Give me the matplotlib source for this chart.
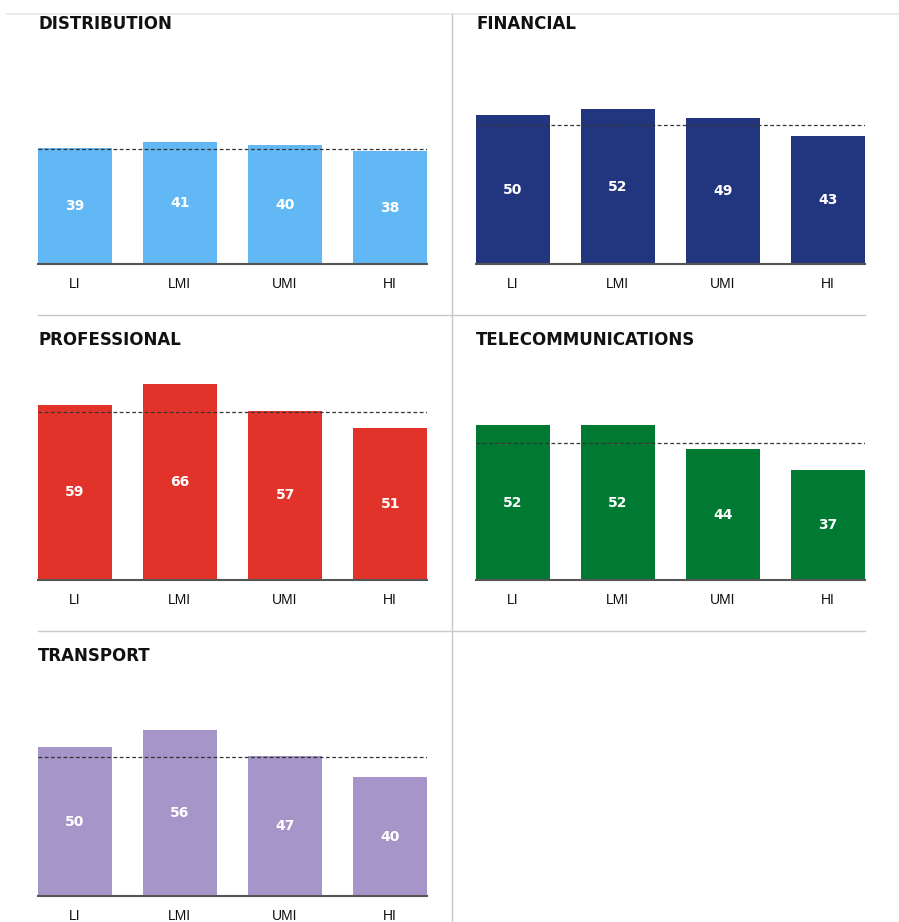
import matplotlib
matplotlib.use('Agg')
import matplotlib.pyplot as plt
from matplotlib.lines import Line2D

plt.rcParams['font.family'] = ['Liberation Sans', 'DejaVu Sans']

# data
groups = ['LI', 'LMI', 'UMI', 'HI']
sectors = ['DISTRIBUTION', 'FINANCIAL', 'PROFESSIONAL', 'TELECOMMUNICATIONS', 'TRANSPORT']
distribution = [39, 41, 40, 38]
financial = [50, 52, 49, 43]
professional = [59, 66, 57, 51]
telecom = [52, 52, 44, 37]
transport = [50, 56, 47, 40]
averages = [38.6, 46.6, 56.6, 46.0, 46.9]

values = [distribution, financial, professional, telecom, transport]
colors = ['#62B8F5', '#22367F', '#E2332A', '#007A33', '#A595C8']

W, H = 899, 922
fig = plt.figure(figsize=(W / 100, H / 100), dpi=100)

# panel placement in pixels: (left, baseline)
slots = [(38, 264), (476, 264), (38, 580), (476, 580), (38, 896)]
panel_w = 389
panel_h = 220


def fig_line(x0, y0, x1, y1, color, lw=1.0):
    fig.add_artist(Line2D([x0 / W, x1 / W], [1 - y0 / H, 1 - y1 / H],
                          transform=fig.transFigure, color=color, lw=lw))


for name, vals, avg, col, (left, base) in zip(sectors, values, averages, colors, slots):
    ax = fig.add_axes([left / W, 1 - base / H, panel_w / W, panel_h / H])
    ax.bar(range(len(groups)), vals, width=0.7, color=col, zorder=2)
    ax.axhline(avg, color='#333333', lw=0.9, ls=(0, (3, 2)), zorder=3)
    for i, v in enumerate(vals):
        ax.text(i, v / 2, str(v), ha='center', va='center', color='white',
                fontweight='bold', fontsize=10, family='DejaVu Sans', zorder=4)
    ax.set_xlim(-0.35, 3.35)
    ax.set_ylim(0, 74)
    ax.set_xticks(range(len(groups)))
    ax.set_xticklabels(groups, fontsize=10, color='#111111')
    ax.tick_params(axis='x', length=0, pad=9)
    ax.set_yticks([])
    for s in ['top', 'left', 'right']:
        ax.spines[s].set_visible(False)
    ax.spines['bottom'].set_color('#555555')
    ax.spines['bottom'].set_linewidth(1.5)
    ax.spines['bottom'].set_zorder(5)
    fig.text(left / W, 1 - (base - 240) / H, name, fontweight='bold',
             family='DejaVu Sans', fontsize=12, va='center', color='#111111')

# separators
fig_line(7, 14.5, 899, 14.5, '#e6e6e6', 1.2)
fig_line(38, 315, 865, 315, '#c8c8c8', 1.0)
fig_line(38, 631, 865, 631, '#c8c8c8', 1.0)
fig_line(451.5, 14.5, 451.5, 922, '#c8c8c8', 1.0)

fig.savefig('out.png', dpi=100)
